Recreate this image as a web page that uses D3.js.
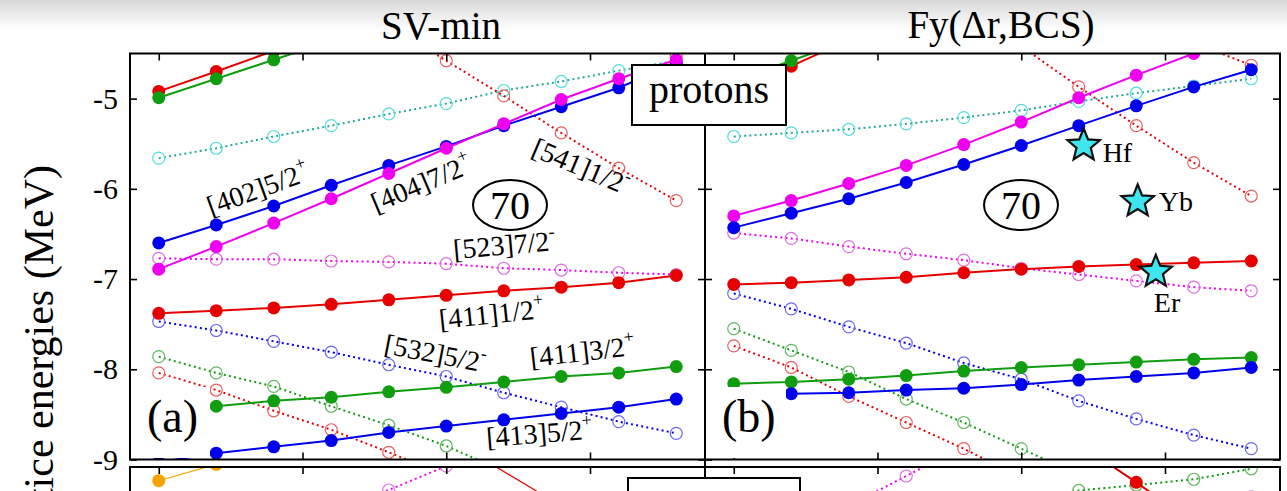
<!DOCTYPE html>
<html><head><meta charset="utf-8">
<script src="https://cdn.jsdelivr.net/npm/d3@7"></script>
<style>
html,body{margin:0;padding:0;background:#fff;}
svg{display:block;}
text{font-family:"Liberation Serif","Times New Roman",serif;fill:#000;}
</style></head>
<body><svg id="chart" width="1287" height="491"></svg>
<script>
// Quadrupole deformation grid and axis ticks
const deformation = [0.20, 0.22, 0.24, 0.26, 0.28, 0.30, 0.32, 0.34, 0.36, 0.38];
const xTicks = [0.20, 0.25, 0.30, 0.35];
const yTicks = [-5, -6, -7, -8, -9];

// SV-min proton levels (MeV)
const svTopRed      = [-4.92, -4.70, -4.47, -4.25, null, null, null, null, null, null];
const svTopGreen    = [-4.99, -4.78, -4.57, -4.36, null, null, null, null, null, null];
const svCyan        = [-5.66, -5.55, -5.42, -5.30, -5.17, -5.055, -4.91, -4.81, -4.69, -4.58];
const sv402_52      = [-6.60, -6.40, -6.19, -5.96, -5.74, -5.53, -5.30, -5.09, -4.88, -4.61];
const sv404_72      = [-6.89, -6.64, -6.38, -6.11, -5.83, -5.55, -5.28, -5.01, -4.78, -4.57];
const sv541_12      = [null, null, null, null, -4.18, -4.58, -4.97, -5.38, -5.77, -6.13];
const svRedHigh     = [null, null, null, null, null, null, null, null, -4.20, -4.53];
const sv523_72      = [-6.77, -6.78, -6.78, -6.80, -6.81, -6.83, -6.88, -6.90, -6.93, -6.95];
const sv411_12      = [-7.38, -7.35, -7.32, -7.28, -7.23, -7.18, -7.13, -7.09, -7.04, -6.96];
const sv532_52      = [-7.47, -7.57, -7.69, -7.81, -7.95, -8.08, -8.26, -8.42, -8.58, -8.71];
const svGreenDot    = [-7.86, -8.04, -8.19, -8.41, -8.62, -8.85, -9.13, null, null, null];
const svRedDot      = [-8.04, -8.23, -8.46, -8.67, -8.92, -9.18, null, null, null, null];
const sv411_32      = [-8.46, -8.41, -8.35, -8.31, -8.25, -8.20, -8.14, -8.08, -8.04, -7.97];
const sv413_52      = [-9.03, -8.93, -8.86, -8.79, -8.70, -8.63, -8.56, -8.49, -8.42, -8.33];

// Fy(Δr,BCS) proton levels (MeV)
const fyTopRed      = [-4.85, -4.64, -4.35, null, null, null, null, null, null, null];
const fyTopGreen    = [-4.80, -4.58, -4.35, null, null, null, null, null, null, null];
const fyCyan        = [-5.42, -5.38, -5.34, -5.28, -5.21, -5.13, -5.03, -4.94, -4.86, -4.78];
const fyMagenta     = [-6.30, -6.13, -5.94, -5.74, -5.51, -5.26, -4.99, -4.74, -4.50, -4.27];
const fyBlue        = [-6.43, -6.27, -6.11, -5.93, -5.73, -5.52, -5.30, -5.08, -4.87, -4.68];
const fyRedDotA     = [null, null, null, null, null, -4.42, -4.87, -5.30, -5.71, -6.08];
const fyRedDotB     = [null, null, null, null, null, null, null, null, -4.38, -4.63];
const fyMagentaDot  = [-6.49, -6.55, -6.64, -6.72, -6.79, -6.88, -6.95, -7.02, -7.09, -7.13];
const fyRed         = [-7.06, -7.04, -7.01, -6.98, -6.93, -6.89, -6.86, -6.84, -6.82, -6.80];
const fyBlueDot     = [-7.16, -7.33, -7.53, -7.71, -7.93, -8.11, -8.35, -8.55, -8.73, -8.88];
const fyGreenDot    = [-7.55, -7.79, -8.03, -8.33, -8.59, -8.88, -9.17, null, null, null];
const fyRedDotC     = [-7.74, -7.98, -8.30, -8.59, -8.88, -9.20, null, null, null, null];
const fyGreen       = [-8.16, -8.14, -8.11, -8.07, -8.02, -7.98, -7.95, -7.92, -7.89, -7.87];
const fyBlueLow     = [-8.28, -8.27, -8.26, -8.23, -8.21, -8.17, -8.12, -8.08, -8.04, -7.98];

// Neutron levels (top of the lower panels)
const nSvOrange     = [-4.652, -4.47, null, null, null, null, null, null, null, null];
const nSvMagentaDot = [null, null, null, -4.95, -4.755, -4.49, null, null, null, null];
const nSvRedThin    = [null, null, null, null, null, -4.17, null, -4.93, null, null];
const nFyMagentaDot = [null, null, -4.93, -4.60, -4.27, null, null, null, null, null];
const nFyRed        = [null, null, null, null, null, null, -4.24, -4.67, -5.12, null];
const nFyGreenDot   = [null, null, null, null, null, -4.88, -4.76, -4.70, -4.636, -4.52];
const nFyMagentaDot2= [null, null, null, null, null, null, null, null, -5.00, -4.83];

// Experimental band heads
const expDeformation = [0.3217, 0.3405, 0.3468];
const expEnergy      = [-5.52, -6.14, -6.92];
const expNucleus     = ["Hf", "Yb", "Er"];

const C = {
  red: "#e60000", green: "#109e10", blue: "#0000ee", magenta: "#f000f0",
  cyan: "#20a898", orange: "#f5a300"
};
const OPEN = {
  red: "#e86060", green: "#5fb85f", blue: "#6a6aee", magenta: "#e070e0", cyan: "#55dddd"
};

const svSeries = [
  {v: svCyan, c: "cyan", dot: true},
  {v: sv541_12, c: "red", dot: true},
  {v: svRedHigh, c: "red", dot: true},
  {v: sv523_72, c: "magenta", dot: true},
  {v: sv532_52, c: "blue", dot: true},
  {v: svGreenDot, c: "green", dot: true},
  {v: svRedDot, c: "red", dot: true},
  {v: svTopRed, c: "red"},
  {v: svTopGreen, c: "green"},
  {v: sv402_52, c: "blue"},
  {v: sv404_72, c: "magenta"},
  {v: sv411_12, c: "red"},
  {v: sv411_32, c: "green"},
  {v: sv413_52, c: "blue"}
];
const fySeries = [
  {v: fyCyan, c: "cyan", dot: true},
  {v: fyRedDotA, c: "red", dot: true},
  {v: fyRedDotB, c: "red", dot: true},
  {v: fyMagentaDot, c: "magenta", dot: true},
  {v: fyBlueDot, c: "blue", dot: true},
  {v: fyGreenDot, c: "green", dot: true},
  {v: fyRedDotC, c: "red", dot: true},
  {v: fyTopRed, c: "red"},
  {v: fyTopGreen, c: "green"},
  {v: fyMagenta, c: "magenta"},
  {v: fyBlue, c: "blue"},
  {v: fyRed, c: "red"},
  {v: fyGreen, c: "green"},
  {v: fyBlueLow, c: "blue"}
];
const nSvSeries = [
  {v: nSvMagentaDot, c: "magenta", dot: true},
  {v: nSvRedThin, c: "red", thin: true, noMark: true},
  {v: nSvOrange, c: "orange", thin: true}
];
const nFySeries = [
  {v: nFyMagentaDot, c: "magenta", dot: true},
  {v: nFyMagentaDot2, c: "magenta", dot: true},
  {v: nFyGreenDot, c: "green", dot: true},
  {v: nFyRed, c: "red"}
];

const svg = d3.select("#chart");
const F = {left: 130, mid: 705, right: 1280, top: 53.5, bottom: 459.5, lowTop: 467, lowBottom: 873};

// faint shading along the top edge
const defs = svg.append("defs");
const grad = defs.append("linearGradient").attr("id", "topShade").attr("x1", 0).attr("y1", 0).attr("x2", 0).attr("y2", 1);
grad.append("stop").attr("offset", 0).attr("stop-color", "#d8d8d8");
grad.append("stop").attr("offset", 1).attr("stop-color", "#ffffff");
svg.append("rect").attr("x", 0).attr("y", 0).attr("width", 1287).attr("height", 30).attr("fill", "url(#topShade)");

const xL = d3.scaleLinear().domain([0.19, 0.39]).range([F.left, F.mid]);
const xR = d3.scaleLinear().domain([0.19, 0.39]).range([F.mid, F.right]);
const y = d3.scaleLinear().domain([-4.5, -9]).range([F.top, F.bottom]);
const yN = d3.scaleLinear().domain([-4.5, -9]).range([F.lowTop, F.lowBottom]);

function clip(id, x0, y0, x1, y1) {
  defs.append("clipPath").attr("id", id).append("rect")
    .attr("x", x0).attr("y", y0).attr("width", x1 - x0).attr("height", y1 - y0);
}
clip("cSV", F.left, F.top, F.mid, F.bottom);
clip("cFY", F.mid, F.top, F.right, F.bottom);
clip("cNSV", F.left, F.lowTop, F.mid, 491);
clip("cNFY", F.mid, F.lowTop, F.right, 491);

function drawPanel(series, xs, ys, clipId) {
  const g = svg.append("g").attr("clip-path", `url(#${clipId})`);
  series.forEach(s => {
    const pts = deformation.map((d, i) => [d, s.v[i]]).filter(p => p[1] != null);
    const line = d3.line().x(p => xs(p[0])).y(p => ys(p[1]));
    g.append("path").attr("d", line(pts)).attr("fill", "none")
      .attr("stroke", C[s.c])
      .attr("stroke-width", s.dot ? 2 : (s.thin ? 1.2 : 2))
      .attr("stroke-dasharray", s.dot ? "2 3.2" : null);
    if (s.noMark) return;
    g.selectAll(null).data(pts).join("circle")
      .attr("cx", p => xs(p[0])).attr("cy", p => ys(p[1]))
      .attr("r", s.dot ? 6 : 6.5)
      .attr("fill", s.dot ? "none" : C[s.c])
      .attr("stroke", s.dot ? OPEN[s.c] : "none")
      .attr("stroke-width", s.dot ? 1.2 : 0);
  });
}
drawPanel(svSeries, xL, y, "cSV");
drawPanel(fySeries, xR, y, "cFY");
drawPanel(nSvSeries, xL, yN, "cNSV");
drawPanel(nFySeries, xR, yN, "cNFY");

// Frames
const frame = svg.append("g").attr("fill", "none").attr("stroke", "#000").attr("stroke-width", 2);
frame.append("rect").attr("x", F.left).attr("y", F.top).attr("width", F.right - F.left).attr("height", F.bottom - F.top);
frame.append("line").attr("x1", F.mid).attr("x2", F.mid).attr("y1", F.top).attr("y2", 491);
frame.append("path").attr("d", `M${F.left},495V${F.lowTop}H${F.right}V495`);

// Ticks
function cleanAxis(g) { g.select(".domain").remove(); g.selectAll(".tick line").attr("stroke-width", 1.6); }
[xL, xR].forEach(xs => {
  svg.append("g").attr("transform", `translate(0,${F.top})`)
    .call(d3.axisTop(xs).tickValues(xTicks).tickSize(-7).tickFormat("")).call(cleanAxis);
  svg.append("g").attr("transform", `translate(0,${F.bottom})`)
    .call(d3.axisBottom(xs).tickValues(xTicks).tickSize(-7).tickFormat("")).call(cleanAxis);
  svg.append("g").attr("transform", `translate(0,${F.lowTop})`)
    .call(d3.axisTop(xs).tickValues(xTicks).tickSize(-7).tickFormat("")).call(cleanAxis);
});
const yAxis = svg.append("g").attr("transform", `translate(${F.left},0)`)
  .call(d3.axisLeft(y).tickValues(yTicks).tickSize(-7).tickPadding(12).tickFormat(d => String(d)))
  .call(cleanAxis);
yAxis.selectAll("text").attr("font-size", 30).attr("font-family", "Liberation Serif, serif").attr("fill", "#000");
svg.append("g").attr("transform", `translate(${F.mid},0)`)
  .call(d3.axisRight(y).tickValues(yTicks).tickSize(-7).tickFormat("")).call(cleanAxis);
svg.append("g").attr("transform", `translate(${F.mid},0)`)
  .call(d3.axisLeft(y).tickValues(yTicks).tickSize(-7).tickFormat("")).call(cleanAxis);
svg.append("g").attr("transform", `translate(${F.right},0)`)
  .call(d3.axisRight(y).tickValues(yTicks).tickSize(-7).tickFormat("")).call(cleanAxis);

// Axis title and panel titles
svg.append("text").attr("transform", "translate(53,165) rotate(-90)")
  .attr("text-anchor", "end").attr("font-size", 42).text("Single-partice energies (MeV)");
svg.append("text").attr("x", 441).attr("y", 39).attr("text-anchor", "middle").attr("font-size", 39).text("SV-min");
svg.append("text").attr("x", 1001).attr("y", 38).attr("text-anchor", "middle").attr("font-size", 39).text("Fy(Δr,BCS)");

// Nilsson labels
const nilsson = [
  {t: "[402]5/2", s: "+", x: 211, y: 216, a: -20},
  {t: "[404]7/2", s: "+", x: 376, y: 213, a: -23},
  {t: "[541]1/2", s: "-", x: 530, y: 155, a: 23},
  {t: "[523]7/2", s: "-", x: 454, y: 259, a: -5},
  {t: "[411]1/2", s: "+", x: 440, y: 329, a: -6},
  {t: "[532]5/2", s: "-", x: 383, y: 353, a: 11},
  {t: "[411]3/2", s: "+", x: 531, y: 367, a: -6.5},
  {t: "[413]5/2", s: "+", x: 487, y: 447, a: -4.5}
];
nilsson.forEach(l => {
  const t = svg.append("text").attr("font-size", 28)
    .attr("transform", `translate(${l.x},${l.y}) rotate(${l.a})`);
  t.append("tspan").text(l.t);
  t.append("tspan").attr("dy", -13).attr("font-size", 18).text(l.s);
});

// Shell gap markers
[[xL, 510], [xR, 1021]].forEach(([xs, cx]) => {
  svg.append("ellipse").attr("cx", cx).attr("cy", 205).attr("rx", 37).attr("ry", 25)
    .attr("fill", "#fff").attr("stroke", "#000").attr("stroke-width", 2);
  svg.append("text").attr("x", cx).attr("y", 219).attr("text-anchor", "middle").attr("font-size", 40).text("70");
});

// Panel letters
[["(a)", 140, 147], ["(b)", 716, 722]].forEach(([txt, bx, tx]) => {
  svg.append("rect").attr("x", bx).attr("y", 387).attr("width", 70).attr("height", 71).attr("fill", "#fff");
  svg.append("text").attr("x", tx).attr("y", 432).attr("font-size", 46).text(txt);
});

// Experimental stars
function starPath(cx, cy, R, r) {
  const p = [];
  for (let i = 0; i < 10; i++) {
    const ang = -Math.PI / 2 + i * Math.PI / 5;
    const rad = i % 2 ? r : R;
    p.push([cx + rad * Math.cos(ang), cy + rad * Math.sin(ang)]);
  }
  return "M" + p.map(q => q.join(",")).join("L") + "Z";
}
const expLabelOffset = [[19, 16], [21, 10], [-2, 40]];
expDeformation.forEach((d, i) => {
  const cx = xR(d), cy = y(expEnergy[i]);
  svg.append("path").attr("d", starPath(cx, cy, 17, 7.5))
    .attr("fill", "#3fe6ee").attr("stroke", "#111").attr("stroke-width", 2.2).attr("stroke-linejoin", "miter");
  svg.append("text").attr("x", cx + expLabelOffset[i][0]).attr("y", cy + expLabelOffset[i][1])
    .attr("font-size", 28).text(expNucleus[i]);
});

// Boxed particle label (upper) and the frame of the lower one
svg.append("rect").attr("x", 632).attr("y", 65).attr("width", 154).attr("height", 60)
  .attr("fill", "#fff").attr("stroke", "#000").attr("stroke-width", 2);
svg.append("text").attr("x", 709).attr("y", 103).attr("text-anchor", "middle").attr("font-size", 40).text("protons");
svg.append("rect").attr("x", 628).attr("y", 478).attr("width", 172).attr("height", 60)
  .attr("fill", "#fff").attr("stroke", "#000").attr("stroke-width", 2);
</script></body></html>
